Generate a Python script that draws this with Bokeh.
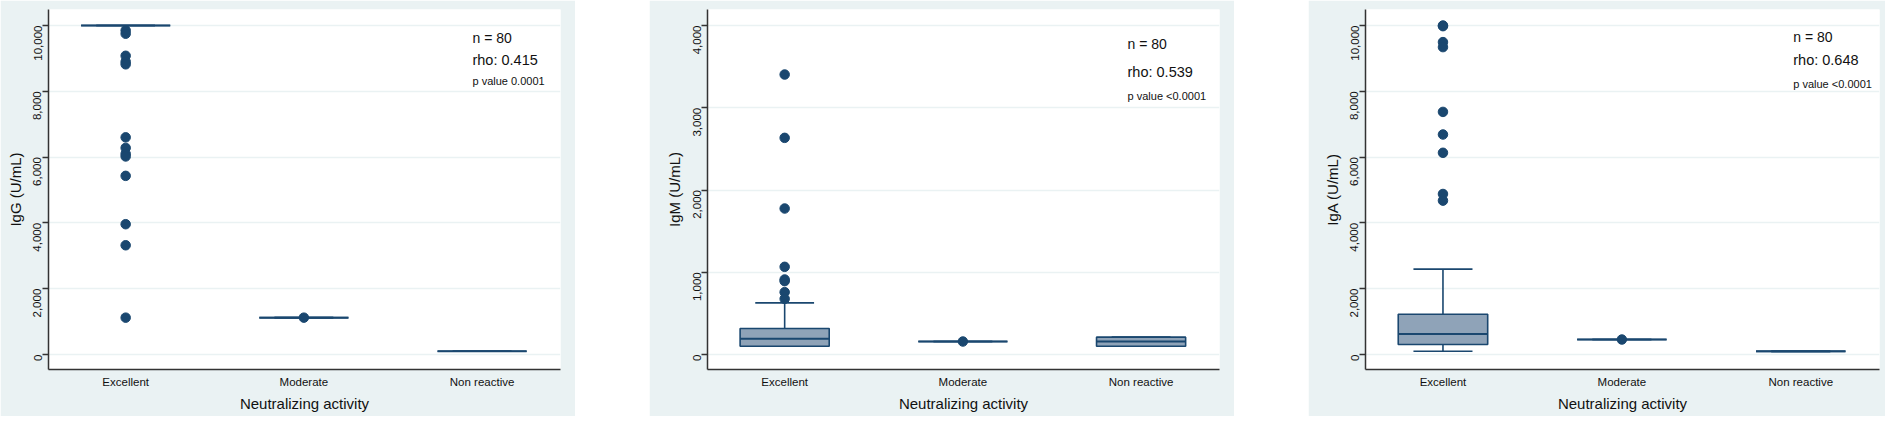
import numpy as np
from bokeh.plotting import figure
from bokeh.models import Range1d, FixedTicker, NumeralTickFormatter, Label
from bokeh.layouts import row
from bokeh.embed import file_html
from bokeh.resources import INLINE

# ---------------- data ----------------
categories = ["Excellent", "Moderate", "Non reactive"]
cat_pos = [1, 2, 3]

# IgG panel
igg_q1 = [10000, 1120, 100]
igg_med = [10000, 1120, 100]
igg_q3 = [10000, 1120, 100]
igg_lo = [10000, 1120, 100]
igg_hi = [10000, 1120, 100]
igg_pt_cat = [1] * 13 + [2]
igg_pt_val = [9850, 9750, 9080, 8900, 8820, 6600, 6280, 6100, 6020, 5430,
              3960, 3320, 1120, 1120]
igg_ticks = [0, 2000, 4000, 6000, 8000, 10000]
igg_stats = ["n = 80", "rho: 0.415", "p value 0.0001"]

# IgM panel
igm_q1 = [101, 158, 101]
igm_med = [190, 158, 158]
igm_q3 = [316, 158, 211]
igm_lo = [101, 158, 101]
igm_hi = [628, 158, 211]
igm_pt_cat = [1] * 8 + [2]
igm_pt_val = [3404, 2634, 1775, 1066, 912, 892, 758, 677, 158]
igm_ticks = [0, 1000, 2000, 3000, 4000]
igm_stats = ["n = 80", "rho: 0.539", "p value <0.0001"]

# IgA panel
iga_q1 = [303, 455, 95]
iga_med = [626, 455, 95]
iga_q3 = [1222, 455, 95]
iga_lo = [101, 455, 95]
iga_hi = [2596, 455, 95]
iga_pt_cat = [1] * 9 + [2]
iga_pt_val = [10000, 9980, 9495, 9343, 7374, 6687, 6131, 4879, 4677, 455]
iga_ticks = [0, 2000, 4000, 6000, 8000, 10000]
iga_stats = ["n = 80", "rho: 0.648", "p value <0.0001"]

# ---------------- style ----------------
NAVY = "#1a476f"
BOXFILL = "#8fa3b8"
BG = "#eaf2f3"
FONT = "Liberation Sans"


def make_panel(ylab, ticks, q1, med, q3, lo, hi, pt_cat, pt_val, stats,
               width, left, right, tx, ty):
    ymax = ticks[-1]
    p = figure(width=width, height=416, output_backend="svg", toolbar_location=None,
               x_range=Range1d(0.567, 3.44),
               y_range=Range1d(-ymax * 15 / 329, ymax * (1 + 16 / 329)),
               min_border_left=left, min_border_right=right,
               min_border_top=9, min_border_bottom=47)
    p.background_fill_color = "white"
    p.border_fill_color = BG
    p.outline_line_color = None

    c = np.array(cat_pos, dtype=float)
    # whiskers
    p.segment(x0=c, y0=q3, x1=c, y1=hi, line_color=NAVY, line_width=1.6)
    p.segment(x0=c, y0=q1, x1=c, y1=lo, line_color=NAVY, line_width=1.6)
    p.segment(x0=c - 0.165, y0=hi, x1=c + 0.165, y1=hi, line_color=NAVY, line_width=1.6)
    p.segment(x0=c - 0.165, y0=lo, x1=c + 0.165, y1=lo, line_color=NAVY, line_width=1.6)
    # boxes
    p.vbar(x=c, width=0.5, bottom=q1, top=q3, fill_color=BOXFILL,
           line_color=NAVY, line_width=1.6)
    p.segment(x0=c - 0.25, y0=med, x1=c + 0.25, y1=med, line_color=NAVY, line_width=2)
    # points
    p.scatter(x=pt_cat, y=pt_val, size=9.5, fill_color=NAVY, line_color=NAVY)

    # axes
    p.xaxis.ticker = FixedTicker(ticks=cat_pos)
    p.xaxis.major_label_overrides = {k: v for k, v in zip(cat_pos, categories)}
    p.xaxis.axis_label = "Neutralizing activity"
    p.xaxis.major_tick_out = 0
    p.xaxis.major_tick_in = 0
    p.xaxis.minor_tick_out = 0
    p.xaxis.major_label_standoff = 6
    p.xaxis.axis_label_standoff = 4

    p.yaxis.ticker = FixedTicker(ticks=ticks)
    p.yaxis.formatter = NumeralTickFormatter(format="0,0")
    p.yaxis.axis_label = ylab
    p.yaxis.major_label_orientation = np.pi / 2
    p.yaxis.major_tick_out = 6
    p.yaxis.major_tick_in = 0
    p.yaxis.minor_tick_out = 0
    p.yaxis.major_label_standoff = 5
    p.yaxis.axis_label_standoff = 3

    for ax in (p.xaxis, p.yaxis):
        ax.axis_line_color = "#333333"
        ax.axis_line_width = 1.5
        ax.major_tick_line_color = "#333333"
        ax.major_tick_line_width = 1.5
        ax.major_label_text_font = FONT
        ax.major_label_text_font_size = "11.5px"
        ax.major_label_text_color = "#111111"
        ax.axis_label_text_font = FONT
        ax.axis_label_text_font_size = "15px"
        ax.axis_label_text_font_style = "normal"
        ax.axis_label_text_color = "#111111"

    p.xgrid.visible = False
    p.ygrid.ticker = FixedTicker(ticks=ticks)
    p.ygrid.grid_line_color = BG
    p.ygrid.grid_line_width = 1.5

    sizes = ["14px", "14.5px", "11px"]
    for s, fy, fs in zip(stats, ty, sizes):
        p.add_layout(Label(x=tx, y=fy * ymax, text=s, text_font=FONT,
                           text_font_size=fs, text_baseline="middle",
                           text_align="left", text_color="#111111"))
    return p


p1 = make_panel("IgG (U/mL)", igg_ticks, igg_q1, igg_med, igg_q3, igg_lo, igg_hi,
                igg_pt_cat, igg_pt_val, igg_stats, 575, 48, 15, 2.946,
                [0.9605, 0.8966, 0.8328])
p2 = make_panel("IgM (U/mL)", igm_ticks, igm_q1, igm_med, igm_q3, igm_lo, igm_hi,
                igm_pt_cat, igm_pt_val, igm_stats, 585, 58, 15, 2.924,
                [0.9425, 0.860, 0.787])
p3 = make_panel("IgA (U/mL)", iga_ticks, iga_q1, iga_med, iga_q3, iga_lo, iga_hi,
                iga_pt_cat, iga_pt_val, iga_stats, 577, 57, 6, 2.958,
                [0.9665, 0.8966, 0.8237])

layout = row(p1, p2, p3, spacing=74)
open("out.html", "w").write(file_html(layout, INLINE))
